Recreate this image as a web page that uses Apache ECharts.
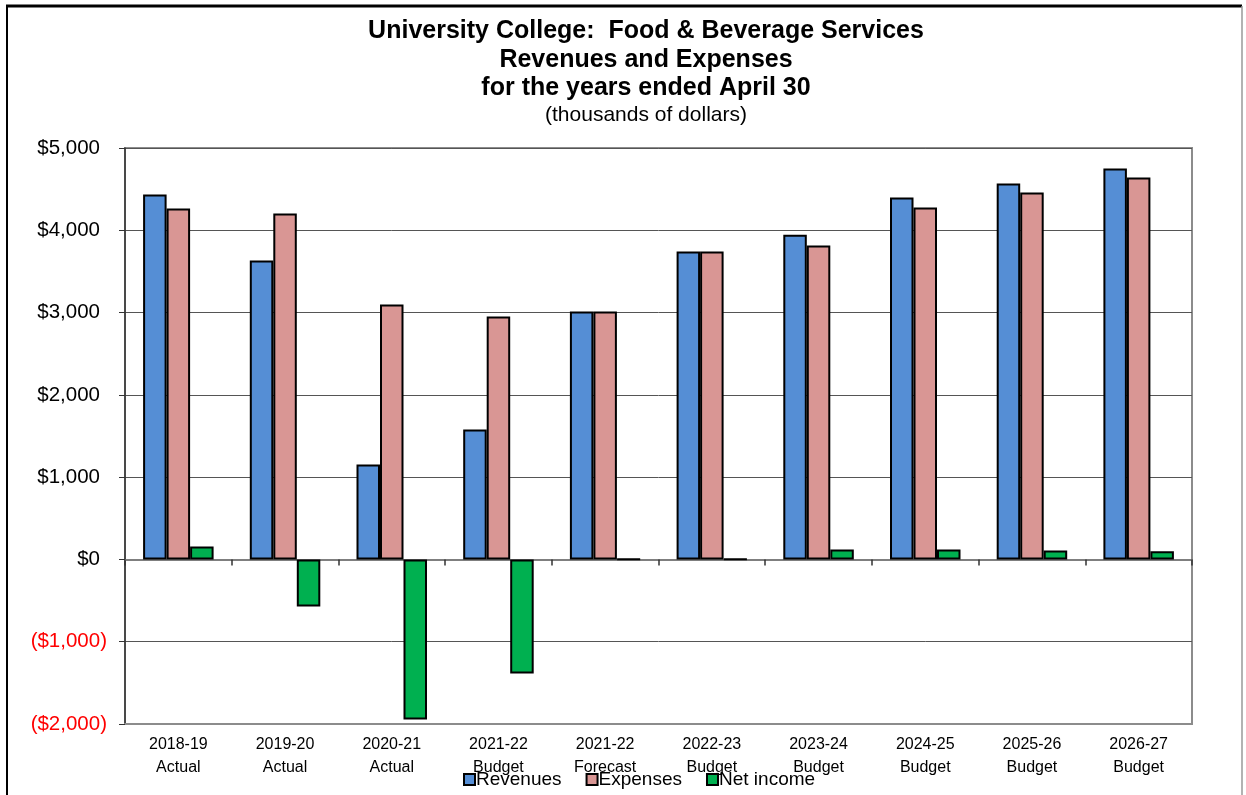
<!DOCTYPE html>
<html>
<head>
<meta charset="utf-8">
<script src="https://cdn.jsdelivr.net/npm/echarts@6/dist/echarts.min.js"></script>
<style>html,body{margin:0;padding:0;background:#fff;}#c{width:1246px;height:795px;}</style>
</head>
<body>
<div id="c"></div>
<script>
const categories = ['2018-19\nActual','2019-20\nActual','2020-21\nActual','2021-22\nBudget','2021-22\nForecast','2022-23\nBudget','2023-24\nBudget','2024-25\nBudget','2025-26\nBudget','2026-27\nBudget'];
const revenues = [4435, 3633, 1154, 1580, 3013, 3742, 3945, 4398, 4569, 4751];
const expenses = [4265, 4204, 3098, 2953, 3013, 3742, 3815, 4277, 4459, 4642];
const netIncome = [158, -571, -1944, -1385, 5, 5, 120, 120, 110, 100];
const titleLines = ['University College:  Food & Beverage Services','Revenues and Expenses','for the years ended April 30'];
const subtitle = '(thousands of dollars)';

const FONT = '"Liberation Sans", Arial, sans-serif';
const chart = echarts.init(document.getElementById('c'), null, {renderer:'canvas'});

function fmt(v){
  const s = '$' + Math.abs(v).toLocaleString('en-US');
  return v < 0 ? '{neg|(' + s + ')}' : '{pos|' + s + '}';
}

const barStyle = (color) => ({color: color, borderColor: '#000', borderWidth: 2});

chart.setOption({
  animation: false,
  backgroundColor: '#fff',
  graphic: [
    {type:'line', shape:{x1:6,y1:6,x2:1242,y2:6}, style:{stroke:'#000', lineWidth:3}, silent:true},
    {type:'line', shape:{x1:7,y1:6,x2:7,y2:800}, style:{stroke:'#000', lineWidth:2}, silent:true},
    {type:'line', shape:{x1:1242,y1:6,x2:1242,y2:800}, style:{stroke:'#999', lineWidth:1.5}, silent:true},
    {type:'text', style:{text:titleLines[0], x:646, y:31, textAlign:'center', textVerticalAlign:'middle', font:'bold 25px ' + FONT, fill:'#000'}},
    {type:'text', style:{text:titleLines[1], x:646, y:60, textAlign:'center', textVerticalAlign:'middle', font:'bold 25px ' + FONT, fill:'#000'}},
    {type:'text', style:{text:titleLines[2], x:646, y:88, textAlign:'center', textVerticalAlign:'middle', font:'bold 25px ' + FONT, fill:'#000'}},
    {type:'text', style:{text:subtitle, x:646, y:115, textAlign:'center', textVerticalAlign:'middle', font:'21px ' + FONT, fill:'#000'}}
  ],
  grid: {left:125, right:54, top:148, bottom:71, show:true, borderColor:'#8c8c8c', borderWidth:2, backgroundColor:'transparent'},
  legend: {
    data:['Revenues','Expenses','Net income'],
    left: 458, top: 765,
    itemWidth: 11, itemHeight: 11, itemGap: 24,
    icon: 'rect',
    textStyle: {fontFamily: FONT, fontSize: 19, color:'#000', padding:[0,0,0,-4]},
    itemStyle: {borderColor:'#000', borderWidth: 2}
  },
  xAxis: [
    {
      type:'category', data:categories, position:'bottom',
      axisLine:{onZero:false, lineStyle:{color:'#8c8c8c', width:2}},
      axisTick:{show:false},
      axisLabel:{fontFamily:FONT, fontSize:16, color:'#000', margin:9, lineHeight:23, interval:0}
    },
    {
      type:'category', data:categories, position:'bottom',
      axisLine:{onZero:true, lineStyle:{color:'#7f7f7f', width:2}},
      axisTick:{show:true, length:6, lineStyle:{color:'#333', width:1.5}},
      axisLabel:{show:false}
    }
  ],
  yAxis: {
    type:'value', min:-2000, max:5000, interval:1000,
    axisLine:{show:true, lineStyle:{color:'#333', width:1.5}},
    axisTick:{show:true, length:6, lineStyle:{color:'#333'}},
    splitLine:{show:true, lineStyle:{color:'#555', width:1}},
    axisLabel:{
      formatter: fmt, margin: 18,
      rich:{
        pos:{fontFamily:FONT, fontSize:20.5, color:'#000', padding:[0,7,0,0]},
        neg:{fontFamily:FONT, fontSize:20.5, color:'#ff0000'}
      }
    }
  },
  series: [
    {name:'Revenues', type:'bar', data:revenues, xAxisIndex:0, barWidth:23.5, barGap:'0%', itemStyle:barStyle('#558ed5')},
    {name:'Expenses', type:'bar', data:expenses, xAxisIndex:0, barWidth:23.5, barGap:'0%', itemStyle:barStyle('#d99694')},
    {name:'Net income', type:'bar', data:netIncome, xAxisIndex:0, barWidth:23.5, barGap:'0%', itemStyle:barStyle('#00b050')}
  ]
});
</script>
</body>
</html>
